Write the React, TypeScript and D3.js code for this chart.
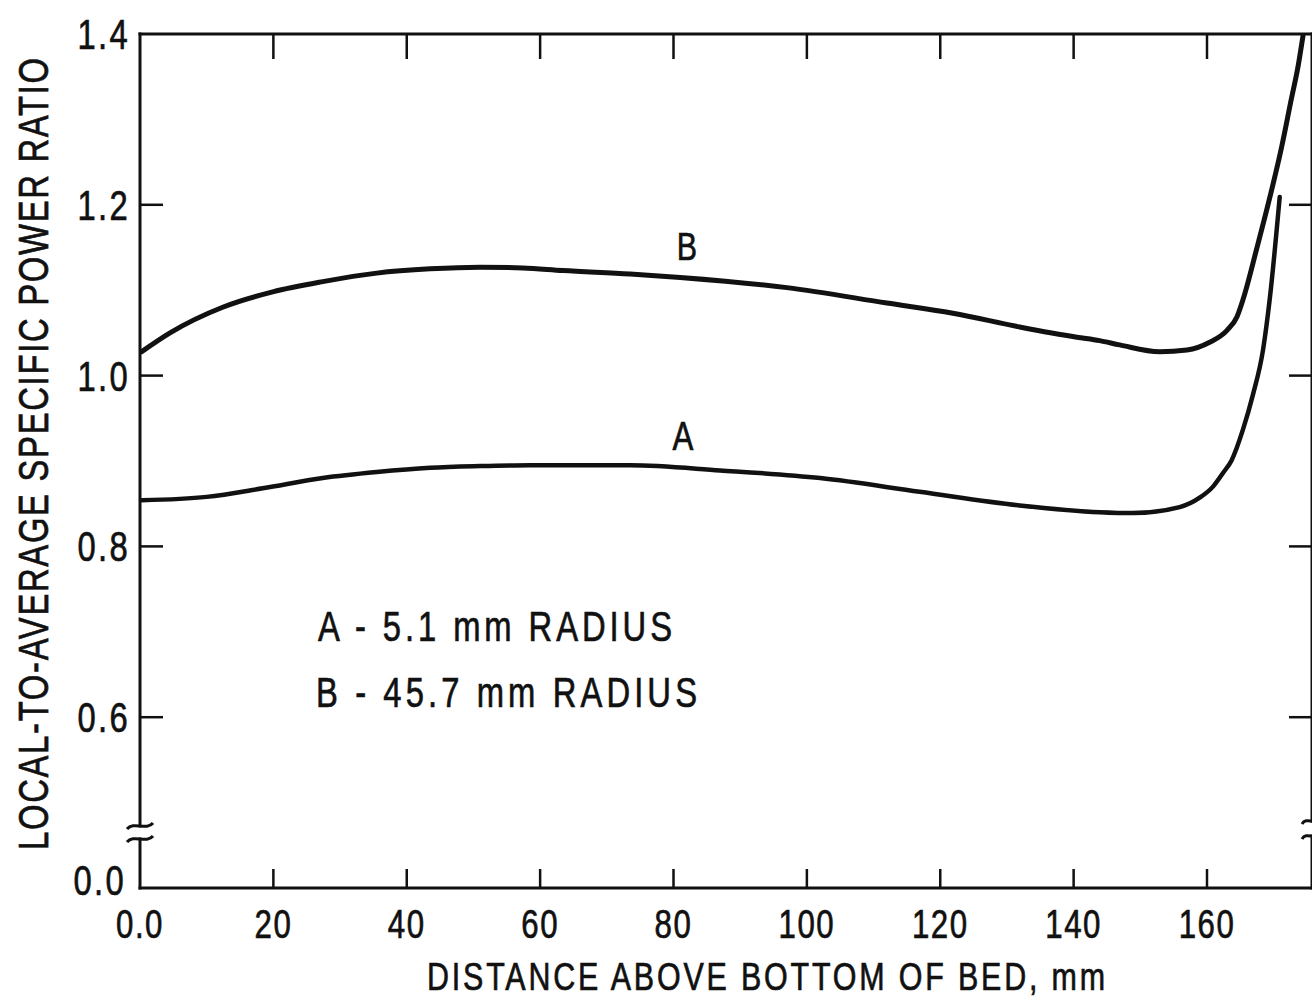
import React from "react";
import * as d3 from "d3";

// ---------- data ----------
const xTicks = [0, 20, 40, 60, 80, 100, 120, 140, 160];
const xTickLabels = ["0.0", "20", "40", "60", "80", "100", "120", "140", "160"];
const yTicks = [0.6, 0.8, 1.0, 1.2, 1.4];
const yTickLabels = ["0.6", "0.8", "1.0", "1.2", "1.4"];
const yBreakLabel = "0.0";

// Curve A – 5.1 mm radius
const aX = [0.3, 10, 18.4, 27.4, 35.5, 43.5, 51, 58.5, 73.5, 87, 102, 116.9, 131.9, 143.9, 148.9, 155.9, 158.9, 160.9, 162.4, 163.7, 165.4, 166.9, 168.4, 169.4, 170.9];
const aY = [0.854, 0.858, 0.868, 0.88, 0.887, 0.892, 0.894, 0.895, 0.895, 0.889, 0.88, 0.864, 0.848, 0.84, 0.839, 0.846, 0.857, 0.87, 0.886, 0.901, 0.937, 0.978, 1.03, 1.089, 1.209];

// Curve B – 45.7 mm radius
const bX = [0.25, 4.5, 12.4, 19.9, 27.4, 35.5, 43.5, 51, 57.4, 63.4, 73.5, 81, 97, 112, 121.9, 131.9, 140.5, 143.9, 146.9, 152.9, 157, 160.4, 163, 164.5, 165.4, 167.5, 169.4, 171.2, 172.6, 173.7, 174.4];
const bY = [1.028, 1.05, 1.08, 1.098, 1.11, 1.12, 1.125, 1.127, 1.126, 1.123, 1.119, 1.115, 1.103, 1.085, 1.073, 1.057, 1.045, 1.041, 1.036, 1.028, 1.03, 1.039, 1.053, 1.069, 1.089, 1.15, 1.208, 1.268, 1.322, 1.364, 1.398];

const legendLines = ["A - 5.1 mm RADIUS", "B - 45.7 mm RADIUS"];
const xTitle = "DISTANCE ABOVE BOTTOM OF BED, mm";
const yTitle = "LOCAL-TO-AVERAGE SPECIFIC POWER RATIO";

// ---------- layout ----------
const W = 1312;
const H = 1005;
const left = 140;
const right = 1311;
const top = 34;
const bottom = 888;

const FONT = "'Liberation Sans', Arial, sans-serif";
const INK = "#111";
const SX = 0.78; // condensed look

type NTProps = {
  x: number;
  y: number;
  size: number;
  anchor?: "start" | "middle" | "end";
  rotate?: number;
  length?: number;
  spacing?: number;
  children: React.ReactNode;
};

function NText({ x, y, size, anchor = "start", rotate = 0, length, spacing, children }: NTProps) {
  return (
    <g transform={`translate(${x},${y}) rotate(${rotate}) scale(${SX},1)`}>
      <text
        x={0}
        y={0}
        fontFamily={FONT}
        fontSize={size}
        fill={INK}
        stroke={INK}
        strokeWidth={0.7}
        textAnchor={anchor}
        letterSpacing={spacing}
        textLength={length ? length / SX : undefined}
        lengthAdjust={length ? "spacing" : undefined}
      >
        {children}
      </text>
    </g>
  );
}

export default function App() {
  const x = d3.scaleLinear().domain([0, 160]).range([left, 1207]);
  // broken axis: the lower end of the drawn scale (0.4) is labelled 0.0
  const y = d3.scaleLinear().domain([0.4, 1.4]).range([bottom, top]);

  const line = d3
    .line<[number, number]>()
    .x((d) => x(d[0]))
    .y((d) => y(d[1]))
    .curve(d3.curveMonotoneX);

  const aPts = aX.map((v, i) => [v, aY[i]] as [number, number]);
  const bPts = bX.map((v, i) => [v, bY[i]] as [number, number]);

  const breakTopL = 826;
  const breakBotL = 839;
  const breakTopR = 821;
  const breakBotR = 836;

  const wave = (cx: number, cy: number, w: number) =>
    `M${cx - w / 2},${cy + 3} C${cx - w / 4},${cy - 5} ${cx + w / 4},${cy + 5} ${cx + w / 2},${cy - 3}`;

  return (
    <svg
      width={W}
      height={H}
      viewBox={`0 0 ${W} ${H}`}
      style={{ position: "absolute", left: 0, top: 0, display: "block", background: "#fff" }}
    >
      <rect x={0} y={0} width={W} height={H} fill="#fff" />
      {/* frame */}
      <g stroke={INK} strokeWidth={3} fill="none" strokeLinecap="square">
        <line x1={left} y1={top} x2={W} y2={top} />
        <line x1={left} y1={bottom} x2={W} y2={bottom} />
        <line x1={left} y1={top} x2={left} y2={breakTopL} />
        <line x1={left} y1={breakBotL} x2={left} y2={bottom} />
        <line x1={right + 1} y1={top} x2={right + 1} y2={breakTopR} />
        <line x1={right + 1} y1={breakBotR} x2={right + 1} y2={bottom} />
      </g>
      {/* break marks */}
      <g stroke={INK} strokeWidth={3} fill="none">
        <path d={wave(left, breakTopL, 26)} />
        <path d={wave(left, breakBotL, 26)} />
        <path d={wave(right, breakTopR, 18)} />
        <path d={wave(right, breakBotR, 18)} />
      </g>
      {/* ticks */}
      <g stroke={INK} strokeWidth={2.5}>
        {xTicks.slice(1).map((t) => (
          <g key={"xt" + t}>
            <line x1={x(t)} y1={bottom} x2={x(t)} y2={bottom - 19} />
            <line x1={x(t)} y1={top} x2={x(t)} y2={top + 25} />
          </g>
        ))}
        {yTicks.slice(0, -1).map((t) => (
          <g key={"yt" + t}>
            <line x1={left} y1={y(t)} x2={left + 23} y2={y(t)} />
            <line x1={right} y1={y(t)} x2={right - 22} y2={y(t)} />
          </g>
        ))}
      </g>
      {/* tick labels */}
      {xTicks.map((t, i) => (
        <NText key={"xl" + t} x={x(t)} y={938} size={40} anchor="middle" spacing={2}>
          {xTickLabels[i]}
        </NText>
      ))}
      {yTicks.map((t, i) => (
        <NText key={"yl" + t} x={130} y={y(t) + 15} size={42} anchor="end" spacing={3}>
          {yTickLabels[i]}
        </NText>
      ))}
      <NText x={126} y={bottom + 7} size={42} anchor="end" spacing={3}>
        {yBreakLabel}
      </NText>
      {/* curves */}
      <g fill="none" stroke={INK} strokeLinecap="round" strokeLinejoin="round">
        <path d={line(aPts) ?? ""} strokeWidth={4.5} />
        <path d={line(bPts) ?? ""} strokeWidth={5} />
      </g>
      {/* curve labels */}
      <NText x={687} y={260} size={39} anchor="middle">B</NText>
      <NText x={683} y={450} size={40} anchor="middle">A</NText>
      {/* legend */}
      <NText x={318} y={641} size={42} length={354}>
        {legendLines[0]}
      </NText>
      <NText x={316} y={707} size={42} length={381}>
        {legendLines[1]}
      </NText>
      {/* axis titles */}
      <NText x={427} y={990} size={39} length={678}>
        {xTitle}
      </NText>
      <NText x={48} y={850} size={42} rotate={-90} length={792}>
        {yTitle}
      </NText>
    </svg>
  );
}
